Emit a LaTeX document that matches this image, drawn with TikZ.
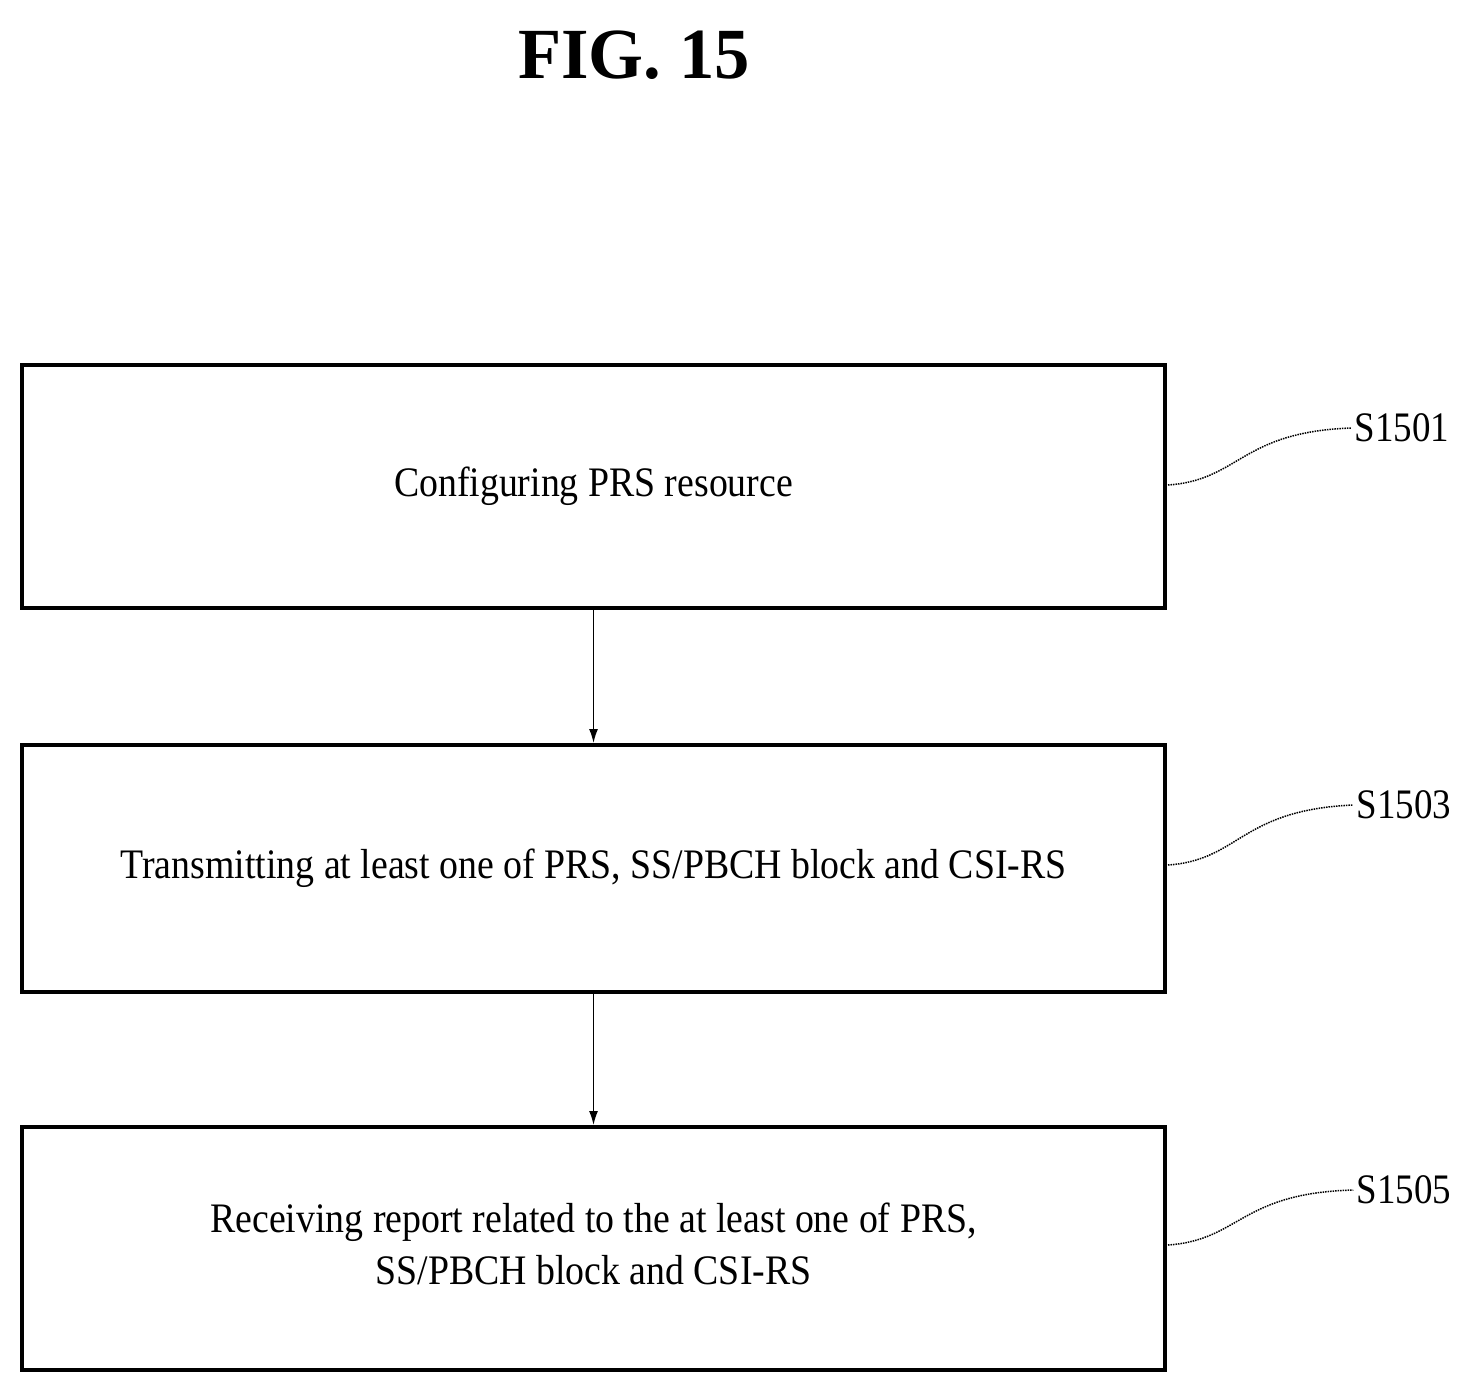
\documentclass[tikz,border=0pt]{standalone}
\usepackage{fontspec}
\usetikzlibrary{arrows.meta}
\setmainfont{Liberation Serif}
\begin{document}
\begin{tikzpicture}[x=1pt,y=-1pt,
  box/.style={draw,line width=4pt,inner sep=0pt},
  txt/.style={font=\fontsize{42}{52}\selectfont,align=center},
  lbl/.style={font=\fontsize{42}{48}\selectfont},
  lead/.style={densely dotted,line width=1.5pt},
  arr/.style={-{Latex[length=14pt,width=9pt]},line width=1.5pt}]
\useasboundingbox (0,0) rectangle (1472,1395);
\node[font=\bfseries\fontsize{72}{80}\selectfont] (title) at (634,55) {\scalebox{0.98}[1]{FIG. 15}};
\node[box,minimum width=1143pt,minimum height=243pt] (b1) at (593.5,486.5) {};
\node[box,minimum width=1143pt,minimum height=247pt] (b2) at (593.5,868.5) {};
\node[box,minimum width=1143pt,minimum height=243pt] (b3) at (593.5,1248.5) {};
\node[txt] (t1) at (b1) {\scalebox{0.9}[1]{Configuring PRS resource}};
\node[txt] (t2) at (b2) {\scalebox{0.9}[1]{Transmitting at least one of PRS, SS/PBCH block and CSI-RS}};
\node[txt] (t3) at (b3) {\scalebox{0.9}[1]{\begin{tabular}{c}Receiving report related to the at least one of PRS,\\SS/PBCH block and CSI-RS\end{tabular}}};
\draw[arr] (b1.south) -- (b2.north);
\draw[arr] (b2.south) -- (b3.north);
\node[lbl] (s1) at (1402,428) {\scalebox{0.88}[1]{S1501}};
\node[lbl] (s2) at (1404,805) {\scalebox{0.88}[1]{S1503}};
\node[lbl] (s3) at (1404,1190) {\scalebox{0.88}[1]{S1505}};
\coordinate (c1) at (1168,485);
\coordinate (c2) at (1168,865);
\coordinate (c3) at (1168,1245);
\draw[lead] (c1) .. controls (1240,480) and (1240,432) .. (s1.west);
\draw[lead] (c2) .. controls (1240,860) and (1240,810) .. (s2.west);
\draw[lead] (c3) .. controls (1240,1240) and (1240,1193) .. (s3.west);
\end{tikzpicture}
\end{document}
